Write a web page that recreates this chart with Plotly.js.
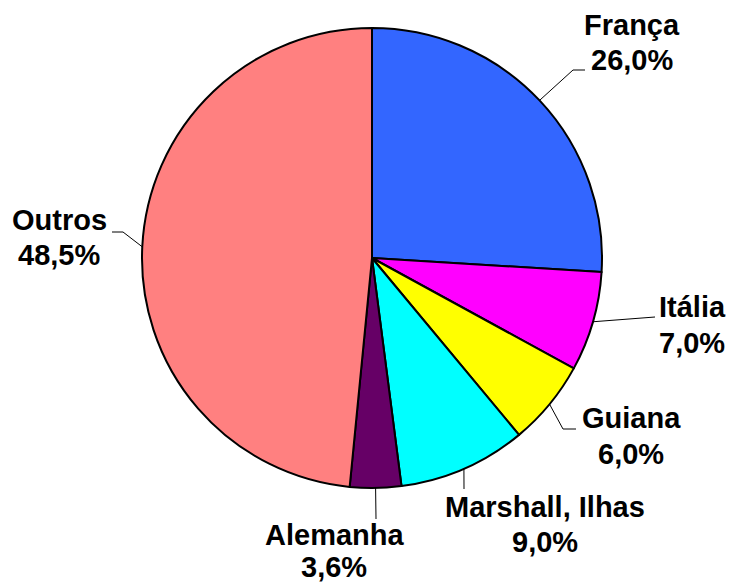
<!DOCTYPE html>
<html>
<head>
<meta charset="utf-8">
<script src="https://cdn.plot.ly/plotly-3.0.1.min.js"></script>
<style>html,body{margin:0;padding:0;background:#fff;}#chart{width:730px;height:585px;}</style>
</head>
<body>
<div id="chart"></div>
<script>
// ---- data ----
const labels = ["França", "Itália", "Guiana", "Marshall, Ilhas", "Alemanha", "Outros"];
const values = [26.0, 7.0, 6.0, 9.0, 3.6, 48.5];
const colors = ["#3366FF", "#FF00FF", "#FFFF00", "#00FFFF", "#660066", "#FF8080"];

// ---- layout config (pixels) ----
const W = 730, H = 585;
const CX = 372, CY = 258, R = 230;
// label centers (x, name line y, value line y) and leader elbow/end points
const labelPos = [
  {x: 632, y1: 25, y2: 60, elbow: [573, 70], end: [585, 70]},
  {x: 692, y1: 307, y2: 343, elbow: [655, 317], end: [655, 317]},
  {x: 631, y1: 418, y2: 454, elbow: [563, 429], end: [576, 429]},
  {x: 545, y1: 507, y2: 542, elbow: [464, 489], end: [464, 489]},
  {x: 334, y1: 535, y2: 567, elbow: [376, 519], end: [376, 519]},
  {x: 59, y1: 220, y2: 255, elbow: [123, 232], end: [112, 232]}
];

const px = x => x / W;
const py = y => 1 - y / H;
const font = {family: 'Liberation Sans, Arial, sans-serif', size: 29, color: '#000', weight: 'bold'};

const total = values.reduce((a, b) => a + b, 0);
const annotations = [];
const shapes = [];
let cum = 0;
values.forEach((v, i) => {
  const mid = (cum + v / 2) / total * 2 * Math.PI;
  cum += v;
  const sx = CX + R * Math.sin(mid);
  const sy = CY - R * Math.cos(mid);
  const p = labelPos[i];
  shapes.push({
    type: 'path', xref: 'paper', yref: 'paper',
    path: `M ${px(sx)} ${py(sy)} L ${px(p.elbow[0])} ${py(p.elbow[1])} L ${px(p.end[0])} ${py(p.end[1])}`,
    line: {color: '#000', width: 1}
  });
  annotations.push({
    xref: 'paper', yref: 'paper', x: px(p.x), y: py(p.y1),
    xanchor: 'center', yanchor: 'middle', showarrow: false,
    text: labels[i], font: font, borderpad: 0
  });
  annotations.push({
    xref: 'paper', yref: 'paper', x: px(p.x), y: py(p.y2),
    xanchor: 'center', yanchor: 'middle', showarrow: false,
    text: v.toFixed(1).replace('.', ',') + '%', font: font, borderpad: 0
  });
});

const trace = {
  type: 'pie',
  labels: labels,
  values: values,
  sort: false,
  direction: 'clockwise',
  rotation: 0,
  textinfo: 'none',
  hoverinfo: 'label+percent',
  marker: {colors: colors, line: {color: '#000', width: 2}},
  domain: {x: [(CX - R) / W, (CX + R) / W], y: [(H - CY - R) / H, (H - CY + R) / H]},
  showlegend: false
};

const layout = {
  width: W, height: H,
  margin: {l: 0, r: 0, t: 0, b: 0},
  paper_bgcolor: '#fff', plot_bgcolor: '#fff',
  showlegend: false,
  annotations: annotations,
  shapes: shapes
};

Plotly.newPlot('chart', [trace], layout, {displayModeBar: false, staticPlot: true});
</script>
</body>
</html>
